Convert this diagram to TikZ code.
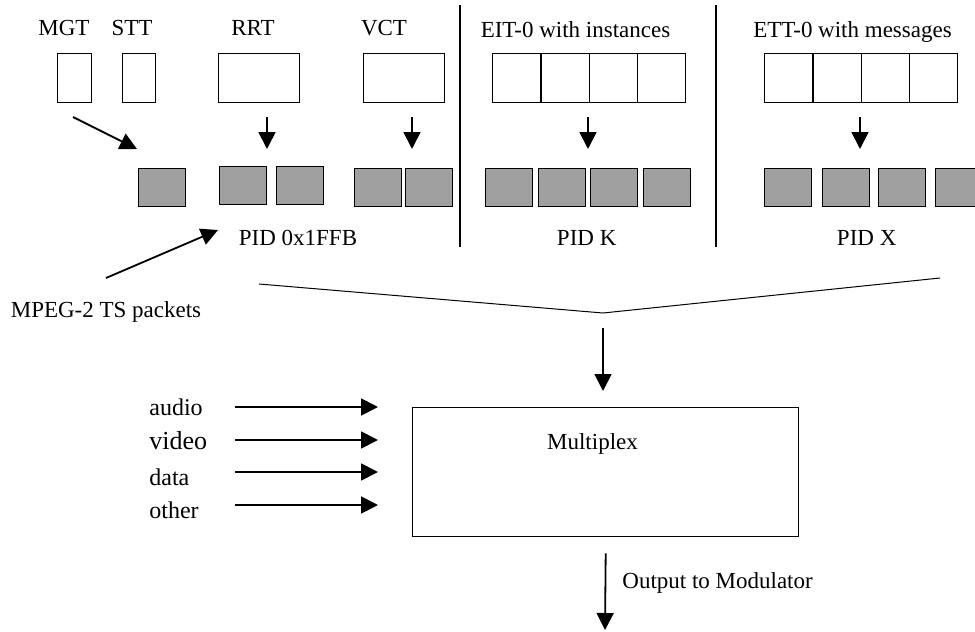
\documentclass[tikz,border=0pt]{standalone}
\usepackage{fontspec}
\setmainfont{Liberation Serif}
\usetikzlibrary{arrows.meta}
\definecolor{packetgrey}{RGB}{160,160,160}

\begin{document}
\begin{tikzpicture}[x = 0.5pt, y = -0.5pt, font=\fontsize{11.5}{13.5}\selectfont]
	\tikzstyle{tableStyle}=[draw, line width = 0.7pt, inner sep = 0pt, minimum height = 24.5pt, anchor = north west]
	\tikzstyle{packetStyle}=[draw, line width = 0.7pt, fill = packetgrey, inner sep = 0pt, minimum width = 23.5pt, minimum height = 19pt, anchor = north west]
	\tikzstyle{labelStyle}=[inner sep = 0pt, anchor = base]
	\tikzstyle{arrowStyle}=[-{Triangle[length = 8.5pt, width = 8.5pt]}, line width = 0.9pt]
	\useasboundingbox (0,0) rectangle (975,632);
	\node[tableStyle, minimum width = 17pt] (mgt) at (57,53) {};
	\node[tableStyle, minimum width = 16.5pt] (stt) at (122,53) {};
	\node[tableStyle, minimum width = 40.5pt] (rrt) at (218,53) {};
	\node[tableStyle, minimum width = 40.5pt] (vct) at (363,53) {};
	\foreach \i in {0,...,3} {
		\node[tableStyle, minimum width = 24.125pt] (eit\i) at (492+48.25*\i,53) {};
		\node[tableStyle, minimum width = 24.125pt] (ett\i) at (764+48.25*\i,53) {};
	}
	\node[packetStyle] (mgtpk) at (138,168) {};
	\node[packetStyle] (rrtpk0) at (219,166) {};
	\node[packetStyle] (rrtpk1) at (276,166) {};
	\node[packetStyle] (vctpk0) at (354,168) {};
	\node[packetStyle] (vctpk1) at (405,168) {};
	\foreach \x [count = \i from 0] in {485,538,590,643}
		\node[packetStyle] (eitpk\i) at (\x,168) {};
	\foreach \x [count = \i from 0] in {764,822,878,935}
		\node[packetStyle] (ettpk\i) at (\x,168) {};
	\node[labelStyle] (mgtlbl) at (64,35) {MGT};
	\node[labelStyle] (sttlbl) at (132,35) {STT};
	\node[labelStyle] (rrtlbl) at (253,35) {RRT};
	\node[labelStyle] (vctlbl) at (384,35) {VCT};
	\node[labelStyle] (eitlbl) at (575.5,37) {EIT-0 with instances};
	\node[labelStyle] (ettlbl) at (852.5,37) {ETT-0 with messages};
	\node[labelStyle] (pid0) at (298,245) {PID 0x1FFB};
	\node[labelStyle] (pidK) at (586.7,245) {PID K};
	\node[labelStyle] (pidX) at (866.7,245) {PID X};
	\node[labelStyle] (mpeg) at (106,317) {MPEG-2 TS packets};
	\draw[line width = 0.7pt] (460,5) -- (460,247);
	\draw[line width = 0.7pt] (716,5) -- (716,247);
	\coordinate (mgtA) at (73,117);
	\coordinate (mgtB) at (137,149);
	\draw[arrowStyle] (mgtA) -- (mgtB);
	\foreach \n/\x in {rrt/267, vct/412, eit/588, ett/860} {
		\coordinate (\n top) at (\x,117);
		\coordinate (\n bot) at (\x,149);
		\draw[arrowStyle] (\n top) -- (\n bot);
	}
	\coordinate (mpegA) at (106,278);
	\coordinate (mpegB) at (218,230);
	\draw[arrowStyle] (mpegA) -- (mpegB);
	\coordinate (funL) at (259,284);
	\coordinate (funM) at (603,313);
	\coordinate (funR) at (940,278);
	\draw[line width = 0.5pt] (funL) -- (funM) -- (funR);
	\node[draw, line width = 0.7pt, inner sep = 0pt, minimum width = 193pt, minimum height = 64.5pt, anchor = north west] (mux) at (412,407) {};
	\node[labelStyle] (muxlbl) at (592.5,449) {Multiplex};
	\draw[arrowStyle, shorten >= 8pt] ([yshift = -7.5pt]funM) -- (funM |- mux.north);
	\foreach \t/\y/\b/\s [count = \i] in {audio/407/415/12, video/440/449/13, data/472/485/12, other/505/518/12} {
		\node[inner sep = 0pt, anchor = base west, font = \fontsize{\s}{\s}\selectfont] (src\i) at (149,\b) {\t};
		\coordinate (in\i) at (235,\y);
		\draw[arrowStyle, shorten >= 17pt] (in\i) -- (in\i -| mux.west);
	}
	\coordinate (outEnd) at (605,630);
	\draw[arrowStyle] ([yshift = -8pt]mux.south) -- (outEnd);
	\node[inner sep = 0pt, anchor = base west] (outlbl) at (622,588) {Output to Modulator};
\end{tikzpicture}
\end{document}
